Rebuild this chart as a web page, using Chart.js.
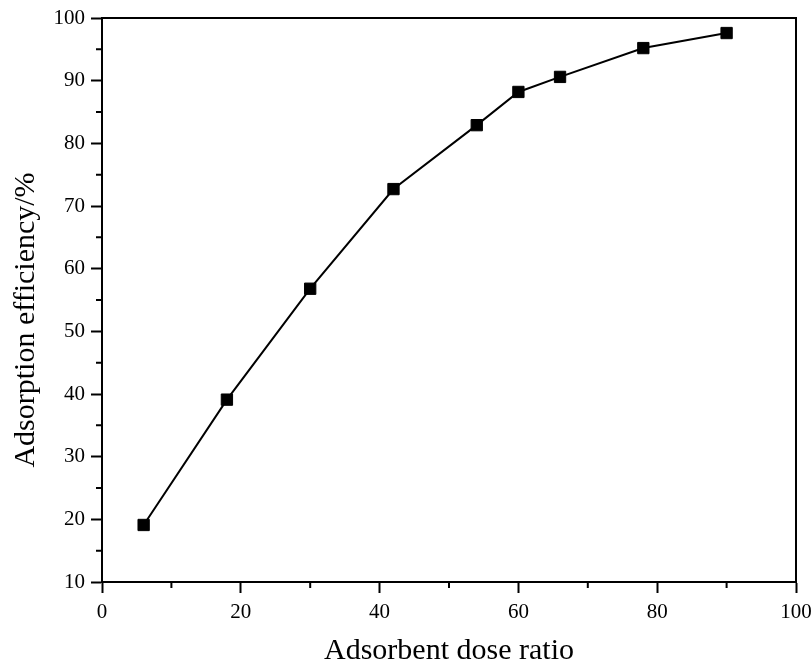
<!DOCTYPE html>
<html><head><meta charset="utf-8">
<script src="https://cdn.jsdelivr.net/npm/chart.js@4.4.0/dist/chart.umd.min.js"></script>
<style>html,body{margin:0;padding:0;background:#fff}#wrap{width:812px;height:666px}</style>
</head><body><div id="wrap"><canvas id="c" width="812" height="666"></canvas></div>
<script>
const doseRatio = [6, 18, 30, 42, 54, 60, 66, 78, 90];
const efficiency = [19.1, 39.1, 56.8, 72.7, 82.9, 88.2, 90.6, 95.2, 97.6];
const xTickValues = [0, 20, 40, 60, 80, 100];
const yTickValues = [10, 20, 30, 40, 50, 60, 70, 80, 90, 100];
const xTitle = 'Adsorbent dose ratio';
const yTitle = 'Adsorption efficiency/%';

const FONT = '"Liberation Serif", "Times New Roman", serif';

const framePlugin = {
  id: 'frame',
  afterDraw(chart) {
    const {ctx, chartArea: a, scales} = chart;
    ctx.save();
    ctx.strokeStyle = '#000';
    ctx.lineWidth = 2;
    ctx.strokeRect(a.left, a.top, a.right - a.left, a.bottom - a.top);
    // minor ticks
    ctx.beginPath();
    for (let v = 10; v < 100; v += 20) {
      const px = scales.x.getPixelForValue(v);
      ctx.moveTo(px, a.bottom); ctx.lineTo(px, a.bottom + 6);
    }
    for (let v = 15; v < 100; v += 10) {
      const py = scales.y.getPixelForValue(v);
      ctx.moveTo(a.left, py); ctx.lineTo(a.left - 6, py);
    }
    ctx.stroke();
    // y-axis title
    ctx.fillStyle = '#000';
    ctx.font = '30px ' + FONT;
    ctx.textAlign = 'center';
    ctx.textBaseline = 'alphabetic';
    ctx.translate(34, 320);
    ctx.rotate(-Math.PI / 2);
    ctx.fillText(yTitle, 0, 0);
    ctx.restore();
  }
};

new Chart(document.getElementById('c'), {
  type: 'line',
  data: {
    datasets: [{
      data: doseRatio.map((x, i) => ({x, y: efficiency[i]})),
      borderColor: '#000',
      backgroundColor: '#000',
      borderWidth: 2,
      pointStyle: 'rect',
      pointRadius: 8,
      pointHoverRadius: 8,
      pointBorderWidth: 1,
      tension: 0
    }]
  },
  options: {
    responsive: false,
    animation: false,
    devicePixelRatio: 1,
    layout: {padding: {left: 0, top: 18, right: 16, bottom: 0}},
    plugins: {legend: {display: false}, tooltip: {enabled: false}},
    scales: {
      x: {
        type: 'linear', min: 0, max: 100,
        afterBuildTicks: s => { s.ticks = xTickValues.map(v => ({value: v})); },
        afterFit: s => { s.height = 84; s.paddingLeft = 0; s.paddingRight = 0; },
        grid: {drawOnChartArea: false, drawTicks: true, tickLength: 11, tickWidth: 2, tickColor: '#000'},
        border: {display: true, color: '#000', width: 2},
        ticks: {color: '#000', font: {family: FONT, size: 21}, padding: 7, maxRotation: 0},
        title: {display: true, text: xTitle, color: '#000', font: {family: FONT, size: 30, lineHeight: 1}, padding: {top: 4, bottom: 0}}
      },
      y: {
        type: 'linear', min: 10, max: 100,
        afterBuildTicks: s => { s.ticks = yTickValues.map(v => ({value: v})); },
        afterFit: s => { s.width = 102; s.paddingTop = 0; s.paddingBottom = 0; },
        grid: {drawOnChartArea: false, drawTicks: true, tickLength: 11, tickWidth: 2, tickColor: '#000'},
        border: {display: true, color: '#000', width: 2},
        ticks: {color: '#000', font: {family: FONT, size: 21}, padding: 6},
        title: {display: false}
      }
    }
  },
  plugins: [framePlugin]
});
</script></body></html>
